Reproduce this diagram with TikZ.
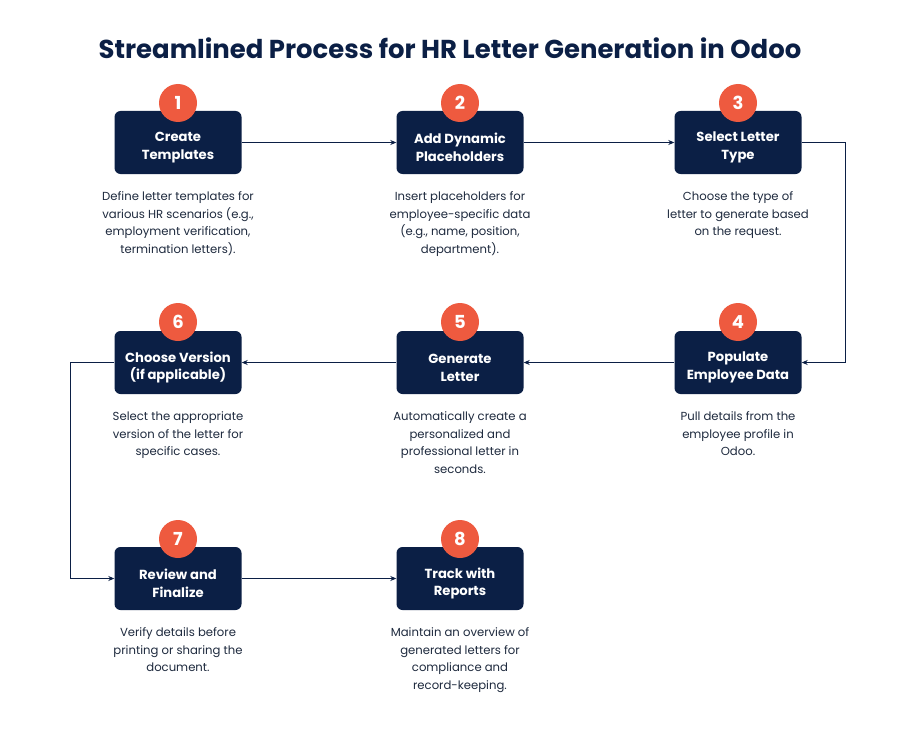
\documentclass[tikz,border=0pt]{standalone}
\usepackage{fontspec}
\setmainfont{Poppins}
\usetikzlibrary{arrows.meta}
\definecolor{navy}{HTML}{0B1F45}
\definecolor{badge}{HTML}{EE5A3F}
\definecolor{txt}{HTML}{1E2A3E}
\tikzset{
  stepbox/.style={fill=navy,rounded corners=6bp,minimum width=127bp,minimum height=63bp,inner sep=0pt},
  boxtext/.style={text=white,font=\fontsize{13.2}{18}\selectfont\bfseries,align=center,inner sep=0pt},
  num/.style={circle,fill=badge,minimum size=38bp,inner sep=0pt,text=white,font=\fontsize{18}{20}\selectfont\bfseries},
  desc/.style={anchor=north,align=center,text=txt,font=\fontsize{11.7}{18}\selectfont,inner sep=0pt},
  conn/.style={draw=navy,line width=0.8bp,-{Stealth[length=6bp,width=5bp]}}
}
\newcommand{\stepnode}[4]{%
  \node[stepbox] (#1) at (#2,#3) {};
  \node[boxtext] (#1t) at (#2,#3+5) {#4};}
\begin{document}
\begin{tikzpicture}[x=1bp,y=-1bp]
\fill[white] (0,0) rectangle (900,730);
\useasboundingbox (0,0) rectangle (900,730);
\node[text=navy,font=\fontsize{26}{30}\selectfont\bfseries] (title) at (450,48) {Streamlined Process for HR Letter Generation in Odoo};
\stepnode{s1}{178}{142.5}{Create\\Templates}
\stepnode{s2}{460}{142.5}{Add Dynamic\\Placeholders}
\stepnode{s3}{738}{142.5}{Select Letter\\Type}
\stepnode{s4}{738}{362.5}{Populate\\Employee Data}
\stepnode{s5}{460}{362.5}{Generate\\Letter}
\stepnode{s6}{178}{362.5}{Choose Version\\(if applicable)}
\stepnode{s7}{178}{578.5}{Review and\\Finalize}
\stepnode{s8}{460}{578.5}{Track with\\Reports}
\foreach \i/\x/\y in {1/178/103,2/460/103,3/738/103,4/738/322,5/460/322,6/178/322,7/178/539,8/460/539}
  \node[num] (n\i) at (\x,\y) {\i};
\node[desc] (d1) at (178,191) {Define letter templates for\\various HR scenarios (e.g.,\\employment verification,\\termination letters).};
\node[desc] (d2) at (460,191) {Insert placeholders for\\employee-specific data\\(e.g., name, position,\\department).};
\node[desc] (d3) at (738,191) {Choose the type of\\letter to generate based\\on the request.};
\node[desc] (d4) at (738,411) {Pull details from the\\employee profile in\\Odoo.};
\node[desc] (d5) at (460,411) {Automatically create a\\personalized and\\professional letter in\\seconds.};
\node[desc] (d6) at (178,411) {Select the appropriate\\version of the letter for\\specific cases.};
\node[desc] (d7) at (178,627) {Verify details before\\printing or sharing the\\document.};
\node[desc] (d8) at (460,627) {Maintain an overview of\\generated letters for\\compliance and\\record-keeping.};
\draw[conn] (s1) -- (s2);
\draw[conn] (s2) -- (s3);
\draw[conn] (s3.east) -- ++(44,0) |- (s4.east);
\draw[conn] (s4) -- (s5);
\draw[conn] (s5) -- (s6);
\draw[conn] (s6.west) -- ++(-44,0) |- (s7.west);
\draw[conn] (s7) -- (s8);
\end{tikzpicture}
\end{document}
